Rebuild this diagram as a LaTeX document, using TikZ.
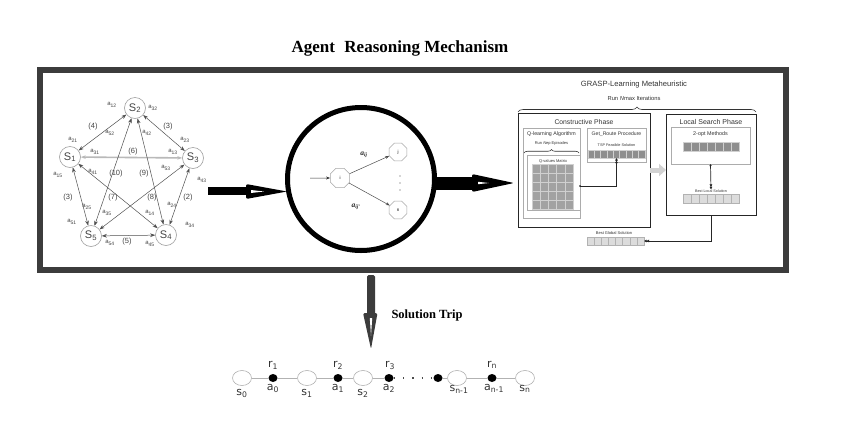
\documentclass[tikz,border=0pt]{standalone}
\usepackage{fontspec}
\setmainfont{Liberation Serif}
\setsansfont{Liberation Sans}
\newfontfamily\dejavu{DejaVu Sans}
\usetikzlibrary{arrows.meta,shapes.geometric,decorations.pathreplacing,calc}
\definecolor{framegray}{HTML}{3C3C3C}
\definecolor{edgegray}{HTML}{505050}
\definecolor{labgray}{HTML}{444444}
\definecolor{cellA}{HTML}{8E8E8E}
\definecolor{cellG}{HTML}{A2A2A2}
\definecolor{cellB}{HTML}{D0D0D0}
\definecolor{cellC}{HTML}{DCDCDC}
\newcommand\cellbar[7]{%
  \fill[#6] (#1,#2) rectangle (#3,#4);
  \foreach \k in {1,...,#5}{\pgfmathsetmacro\xx{#1+(#3-#1)*\k/#5}\draw[#7,line width=0.5pt] (\xx,#2) -- (\xx,#4);}
  \draw[#7,line width=0.5pt] (#1,#2) rectangle (#3,#4);
}
\begin{document}
\begin{tikzpicture}[x=1pt,y=-1pt,
  gnode/.style={circle,draw=gray!75,line width=0.6pt,minimum size=21pt,inner sep=0pt,font=\sffamily\fontsize{11}{11}\selectfont,text=labgray},
  gedge/.style={{Stealth[length=5pt,width=3.6pt]}-{Stealth[length=5pt,width=3.6pt]},draw=edgegray,line width=0.5pt},
  alab/.style={font=\sffamily\fontsize{6}{6}\selectfont,text=labgray,inner sep=0pt},
  wlab/.style={font=\sffamily\fontsize{7.5}{8}\selectfont,text=labgray,inner sep=0pt},
  oct/.style={regular polygon,regular polygon sides=8,draw=gray!70,line width=0.5pt,minimum size=21pt,inner sep=0pt,font=\sffamily\fontsize{4.5}{5}\selectfont},
  bigbox/.style={draw=black!85,line width=0.9pt,anchor=north west,outer sep=0pt,inner sep=0pt},
  smallbox/.style={draw=gray!65,line width=0.5pt,anchor=north west,outer sep=0pt,inner sep=0pt},
  rtxt/.style={text=black!80,inner sep=0pt,font=\sffamily},
  conn/.style={draw=black!85,line width=0.7pt},
  chs/.style={ellipse,draw=gray!60,line width=0.6pt,minimum width=19pt,minimum height=15pt,inner sep=0pt},
  chd/.style={ellipse,fill=black,minimum width=9pt,minimum height=8pt,inner sep=0pt},
  chl/.style={draw=gray!60,line width=0.8pt},
  chlab/.style={font=\dejavu\fontsize{11}{11}\selectfont,text=black!80,inner sep=0pt}
]
\useasboundingbox (0,0) rectangle (857,429);
\fill[white] (0,0) rectangle (857,429);

% title
\node[font=\bfseries\fontsize{17}{19}\selectfont,inner sep=0pt] (title) at (400,48) {Agent\hspace{0.3em} Reasoning Mechanism};

% frame
\node[draw=framegray,line width=6pt,minimum width=746pt,minimum height=200pt,anchor=north west,outer sep=0pt,inner sep=0pt] (frame) at (40,70) {};

% ---------------- left graph
\node[gnode] (s1) at (70,157) {S\textsubscript{1}};
\node[gnode] (s2) at (135,108) {S\textsubscript{2}};
\node[gnode] (s3) at (193,158) {S\textsubscript{3}};
\node[gnode] (s4) at (166,235) {S\textsubscript{4}};
\node[gnode] (s5) at (91,236) {S\textsubscript{5}};

\draw[gedge,draw=gray!55,line width=1.6pt] (s1) -- (s3);
\draw[gedge] (s1) -- (s2);
\draw[gedge] (s2) -- (s3);
\draw[gedge] (s2) -- (s5);
\draw[gedge] (s2) -- (s4);
\draw[gedge] (s1) -- (s4);
\draw[gedge] (s3) -- (s5);
\draw[gedge] (s1) -- (s5);
\draw[gedge] (s3) -- (s4);
\draw[gedge] (s5) -- (s4);

\node[alab] (l12) at (112,105) {a\textsubscript{12}};
\node[alab] (l32) at (153,108) {a\textsubscript{32}};
\node[wlab] (w4) at (93,127) {(4)};
\node[wlab] (w3a) at (168,127) {(3)};
\node[alab] (l52) at (110,133) {a\textsubscript{52}};
\node[alab] (l42) at (147,133) {a\textsubscript{42}};
\node[alab] (l21) at (73,140) {a\textsubscript{21}};
\node[alab] (l23) at (185,140) {a\textsubscript{23}};
\node[alab] (l31) at (95,152) {a\textsubscript{31}};
\node[wlab] (w6) at (133,152) {(6)};
\node[alab] (l13) at (173,152) {a\textsubscript{13}};
\node[alab] (l15) at (58,175) {a\textsubscript{15}};
\node[alab] (l41) at (93,172) {a\textsubscript{41}};
\node[wlab] (w10) at (116,174) {(10)};
\node[wlab] (w9) at (144,174) {(9)};
\node[alab] (l53) at (166,168) {a\textsubscript{53}};
\node[alab] (l43) at (202,180) {a\textsubscript{43}};
\node[wlab] (w3b) at (68,198) {(3)};
\node[wlab] (w7) at (113,198) {(7)};
\node[wlab] (w8) at (152,198) {(8)};
\node[wlab] (w2) at (188,198) {(2)};
\node[alab] (l25) at (87,207) {a\textsubscript{25}};
\node[alab] (l35) at (107,213) {a\textsubscript{35}};
\node[alab] (l14) at (150,213) {a\textsubscript{14}};
\node[alab] (l24) at (172,205) {a\textsubscript{24}};
\node[alab] (l51) at (72,222) {a\textsubscript{51}};
\node[alab] (l34) at (190,225) {a\textsubscript{34}};
\node[alab] (l54) at (110,243) {a\textsubscript{54}};
\node[wlab] (w5) at (127,242) {(5)};
\node[alab] (l45) at (150,244) {a\textsubscript{45}};

% ---------------- big arrow 1
\fill[black] (208,187) rectangle (250,195);
\fill[black,rounded corners=2pt] (246,184) -- (287,191.5) -- (246,199) -- cycle;
\fill[white] (251,190) -- (264,191.5) -- (251,193) -- cycle;

% ---------------- middle circle
\node[ellipse,draw=black,line width=5pt,minimum width=147pt,minimum height=143pt,inner sep=0pt] (mind) at (361,179) {};
\node[oct] (oi) at (340,178) {i};
\node[oct,minimum size=19pt] (oj) at (398,152) {j};
\node[oct,minimum size=19pt] (on) at (398,210) {n};
\coordinate (inl) at (310,178);
\draw[-{Stealth[length=4pt,width=3pt]},draw=black!80,line width=0.5pt] (inl) -- (oi);
\draw[-{Stealth[length=4pt,width=3pt]},draw=black!70,line width=0.5pt] (oi) -- (oj);
\draw[-{Stealth[length=4pt,width=3pt]},draw=black!70,line width=0.5pt] (oi) -- (on);
\node[font=\itshape\bfseries\fontsize{7.5}{8}\selectfont,text=black!85,inner sep=0pt] (aij) at (364,155) {a\textsubscript{ij}};
\node[font=\itshape\bfseries\fontsize{7.5}{8}\selectfont,text=black!85,inner sep=0pt] (aijp) at (356,207) {a\textsubscript{ij'}};
\foreach \yy in {176,183,190} \fill[black!70] (400,\yy) circle (0.6);

% ---------------- big arrow 2
\fill[black] (435,176.5) rectangle (476,189.5);
\fill[black,rounded corners=2pt] (472,174) -- (514,183) -- (472,192) -- cycle;
\fill[white] (478,181.8) -- (489,183) -- (478,184.2) -- cycle;

% ---------------- right panel
\node[rtxt,font=\sffamily\fontsize{7.6}{8}\selectfont] (grasp) at (634,85) {GRASP-Learning Metaheuristic};
\node[rtxt,font=\sffamily\fontsize{5.8}{6}\selectfont] (runn) at (634,98) {Run \textit{N}max Iterations};
\draw[decorate,decoration={brace,amplitude=5pt},draw=black!80,line width=0.6pt] (518,112) -- (756,112);

\node[bigbox,minimum width=132pt,minimum height=114pt] (cons) at (518,113) {};
\node[rtxt,font=\sffamily\fontsize{6.8}{7}\selectfont] (consl) at (584,122) {Constructive Phase};
\node[smallbox,minimum width=57pt,minimum height=90pt] (qlearn) at (523,128) {};
\node[rtxt,font=\sffamily\fontsize{5.3}{6}\selectfont] (qll) at (551.5,134) {Q-learning Algorithm};
\node[rtxt,font=\sffamily\fontsize{4}{5}\selectfont] (runep) at (551.5,143) {Run \textit{N}ep Episodes};
\draw[decorate,decoration={brace,amplitude=3.5pt},draw=black!80,line width=0.6pt] (524,153) -- (579,153);
\node[smallbox,minimum width=53pt,minimum height=55pt] (qmat) at (527,155) {};
\node[rtxt,font=\sffamily\fontsize{4}{5}\selectfont] (qmatl) at (553,161) {Q-values Matrix};
\foreach \i in {0,...,4}{\foreach \j in {0,...,4}{
  \filldraw[fill=cellG,draw=cellB,line width=0.6pt] (532+\i*8.2,164.5+\j*9) rectangle +(8.2,9);}}

\node[smallbox,minimum width=59pt,minimum height=34pt] (groute) at (587,128) {};
\node[rtxt,font=\sffamily\fontsize{5.1}{6}\selectfont] (grl) at (616.5,134) {Get\_Route Procedure};
\node[rtxt,font=\sffamily\fontsize{3.8}{5}\selectfont] (tspl) at (616.5,145) {TSP Feasible Solution};
\node[anchor=north west,outer sep=0pt,inner sep=0pt,minimum width=57pt,minimum height=8pt] (tspbar) at (588,150) {};
\cellbar{588}{150}{645}{158}{9}{cellA}{cellB}

\node[bigbox,minimum width=90pt,minimum height=101pt] (local) at (666,114) {};
\node[rtxt,font=\sffamily\fontsize{7}{7}\selectfont] (locl) at (711,122) {Local Search Phase};
\node[smallbox,minimum width=79pt,minimum height=37pt] (twoopt) at (671,127) {};
\node[rtxt,font=\sffamily\fontsize{5.4}{6}\selectfont] (twol) at (710.5,134) {2-opt Methods};
\cellbar{683}{142}{739}{151}{7}{cellA}{cellB}
\node[rtxt,font=\sffamily\fontsize{3.7}{5}\selectfont] (bll) at (711,191) {Best Local Solution};
\node[anchor=north west,outer sep=0pt,inner sep=0pt,minimum width=56pt,minimum height=9pt] (blbar) at (683,194.5) {};
\cellbar{683}{194.5}{739}{203}{7}{cellC}{gray!60}

\node[rtxt,font=\sffamily\fontsize{4}{5}\selectfont] (bgl) at (614,233) {Best Global Solution};
\node[anchor=north west,outer sep=0pt,inner sep=0pt,minimum width=57pt,minimum height=8pt] (bgbar) at (587,237) {};
\cellbar{587}{237}{644}{245}{8}{cellC}{gray!60}

% connectors right panel
\coordinate (qout) at (580,186);
\fill[black] (qout) circle (0.9);
\draw[conn,-{Latex[length=2.5pt,width=3pt] Latex[length=2.5pt,width=3pt]}] (qout) -| (tspbar.south);
\draw[line width=5pt,draw=gray!35,-{Triangle[length=7pt,width=12pt]}] (cons.east) -- (cons.east -| local.west);
\draw[conn,{Latex[length=2pt,width=2.5pt]}-{Latex[length=2.5pt,width=3pt] Latex[length=2.5pt,width=3pt]}] (twoopt.south) -- (bll.north);
\draw[conn,-{Latex[length=2.5pt,width=3pt] Latex[length=2.5pt,width=3pt]}] (local.south) |- (bgbar.east);

% ---------------- bottom arrow
\fill[framegray,rounded corners=1.5pt] (367,275) rectangle (375,316);
\fill[framegray,rounded corners=1.5pt] (363,313) -- (377.5,313) -- (371,349) -- cycle;
\fill[white] (369.8,318) -- (372.2,318) -- (371,336) -- cycle;
\node[font=\bfseries\fontsize{12.5}{14}\selectfont,inner sep=0pt] (soltrip) at (427,315) {Solution Trip};

% ---------------- chain
\node[chs] (c0) at (242,378) {};
\node[chd] (d0) at (273,378) {};
\node[chs] (c1) at (307,378) {};
\node[chd] (d1) at (338,378) {};
\node[chs] (c2) at (363,378) {};
\node[chd] (d2) at (389,378) {};
\node[chd] (d3) at (438,378) {};
\node[chs] (c3) at (457,378) {};
\node[chd] (d4) at (492,378) {};
\node[chs] (c4) at (525,378) {};
\draw[chl] (c0) -- (d0) -- (c1) -- (d1) -- (c2) -- (d2);
\draw[black!70,line width=1.3pt,dash pattern=on 1.3pt off 8pt] (d2.east) -- (d3.west);
\draw[chl] (d3) -- (c3) -- (d4) -- (c4);

\node[chlab] (r1) at (273,365) {r\textsubscript{1}};
\node[chlab] (r2) at (338,365) {r\textsubscript{2}};
\node[chlab] (r3) at (390,365) {r\textsubscript{3}};
\node[chlab] (rn) at (492,365) {r\textsubscript{n}};
\node[chlab] (a0) at (273,388) {a\textsubscript{0}};
\node[chlab] (a1) at (338,388) {a\textsubscript{1}};
\node[chlab] (a2) at (389,388) {a\textsubscript{2}};
\node[chlab] (an1) at (494,388) {a\textsubscript{n-1}};
\node[chlab] (ls0) at (242,393) {s\textsubscript{0}};
\node[chlab] (ls1) at (307,393) {s\textsubscript{1}};
\node[chlab] (ls2) at (363,393) {s\textsubscript{2}};
\node[chlab] (lsn1) at (459,389) {s\textsubscript{n-1}};
\node[chlab] (lsn) at (525,389) {s\textsubscript{n}};
\end{tikzpicture}
\end{document}
